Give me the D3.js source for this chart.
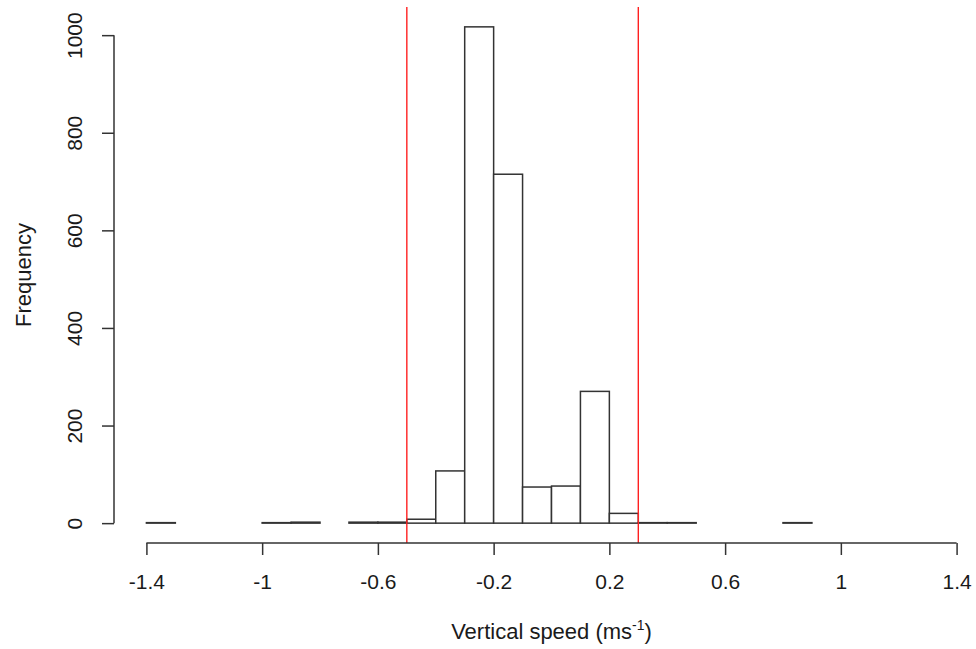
<!DOCTYPE html>
<html>
<head>
<meta charset="utf-8">
<script src="https://cdn.jsdelivr.net/npm/d3@7"></script>
<style>
  body { margin: 0; background: #fff; }
  text { font-family: "Liberation Sans", Arial, sans-serif; fill: #1a1a1a; }
</style>
</head>
<body>
<div id="chart"></div>
<script>

// Histogram bins (lower edge of each 0.1 wide bin) and counts
var binStarts = [-1.4, -1.3, -1.2, -1.1, -1.0, -0.9, -0.8, -0.7, -0.6, -0.5,
                 -0.4, -0.3, -0.2, -0.1, 0.0, 0.1, 0.2, 0.3, 0.4, 0.5,
                 0.6, 0.7, 0.8, 0.9, 1.0, 1.1, 1.2, 1.3];
var counts = [1, 0, 0, 0, 1, 2, 0, 2, 2, 8,
              107, 1017, 715, 74, 76, 270, 20, 1, 1, 0,
              0, 0, 1, 0, 0, 0, 0, 0];
var binWidth = 0.1;

var xTicks = [-1.4, -1, -0.6, -0.2, 0.2, 0.6, 1, 1.4];
var yTicks = [0, 200, 400, 600, 800, 1000];
var cutoffs = [-0.5, 0.3];

var W = 976, H = 649;

// Plot region (R style, 4% extension around data range)
var plot = {left: 114, right: 989, top: 7, bottom: 543};
var tickLen = 12;

var x = d3.scaleLinear()
          .domain( [-1.512, 1.512] )
          .range( [plot.left, plot.right] );

var y = d3.scaleLinear()
          .domain( [-40.7, 1057.7] )
          .range( [plot.bottom, plot.top] );

var svg = d3.select( '#chart' )
            .append( 'svg' )
            .attr( 'width', W )
            .attr( 'height', H );

var data = binStarts.map( function ( b, i ) { return {x0: b, x1: b + binWidth, n: counts[i]}; } );

// Bars
svg.append( 'g' )
   .selectAll( 'rect' )
   .data( data )
   .enter().append( 'rect' )
   .attr( 'x', function ( d ) { return x( d.x0 ); } )
   .attr( 'y', function ( d ) { return y( d.n ); } )
   .attr( 'width', function ( d ) { return x( d.x1 ) - x( d.x0 ); } )
   .attr( 'height', function ( d ) { return y( 0 ) - y( d.n ); } )
   .attr( 'fill', '#fff' )
   .attr( 'stroke', '#333' )
   .attr( 'stroke-width', 1.5 );

// Cutoff lines, clipped to plot region
svg.append( 'g' )
   .selectAll( 'line' )
   .data( cutoffs )
   .enter().append( 'line' )
   .attr( 'x1', function ( d ) { return x( d ); } )
   .attr( 'x2', function ( d ) { return x( d ); } )
   .attr( 'y1', plot.top )
   .attr( 'y2', plot.bottom )
   .attr( 'stroke', '#ff2020' )
   .attr( 'stroke-width', 1.4 );

// X axis
var xAxis = svg.append( 'g' )
               .attr( 'transform', 'translate(0,' + plot.bottom + ')' )
               .call( d3.axisBottom( x ).tickValues( xTicks ).tickSize( tickLen ).tickSizeOuter( 0 )
                        .tickFormat( function ( d ) { return String( d ); } ) );
xAxis.select( '.domain' ).remove();
xAxis.append( 'line' )
     .attr( 'x1', x( xTicks[0] ) )
     .attr( 'x2', x( xTicks[xTicks.length - 1] ) )
     .attr( 'stroke', '#333' )
     .attr( 'stroke-width', 1.5 );
xAxis.selectAll( '.tick line' ).attr( 'stroke', '#333' ).attr( 'stroke-width', 1.5 );
xAxis.selectAll( '.tick text' )
     .attr( 'y', 46 )
     .attr( 'dy', null )
     .style( 'font-size', '21px' )
     .style( 'fill', '#1a1a1a' );

// Y axis
var yAxis = svg.append( 'g' )
               .attr( 'transform', 'translate(' + plot.left + ',0)' )
               .call( d3.axisLeft( y ).tickValues( yTicks ).tickSize( tickLen ).tickSizeOuter( 0 )
                        .tickFormat( function ( d ) { return String( d ); } ) );
yAxis.select( '.domain' ).remove();
yAxis.append( 'line' )
     .attr( 'y1', y( yTicks[0] ) )
     .attr( 'y2', y( yTicks[yTicks.length - 1] ) )
     .attr( 'stroke', '#333' )
     .attr( 'stroke-width', 1.5 );
yAxis.selectAll( '.tick line' ).attr( 'stroke', '#333' ).attr( 'stroke-width', 1.5 );
yAxis.selectAll( '.tick text' )
     .attr( 'x', null )
     .attr( 'text-anchor', 'middle' )
     .attr( 'transform', 'translate(-40,0) rotate(-90)' )
     .attr( 'dy', '0.36em' )
     .style( 'font-size', '21px' )
     .style( 'fill', '#1a1a1a' );

// Axis titles
var xl = svg.append( 'text' )
            .attr( 'x', ( plot.left + plot.right ) / 2 )
            .attr( 'y', 639 )
            .attr( 'text-anchor', 'middle' )
            .style( 'font-size', '22px' );
xl.append( 'tspan' ).text( 'Vertical speed (ms' );
xl.append( 'tspan' ).attr( 'dy', -9 ).style( 'font-size', '14px' ).text( '-1' );
xl.append( 'tspan' ).attr( 'dy', 9 ).text( ')' );

svg.append( 'text' )
   .attr( 'transform', 'translate(23,' + ( plot.top + plot.bottom ) / 2 + ') rotate(-90)' )
   .attr( 'text-anchor', 'middle' )
   .attr( 'dy', '0.36em' )
   .style( 'font-size', '22px' )
   .text( 'Frequency' );

</script>
</body>
</html>
